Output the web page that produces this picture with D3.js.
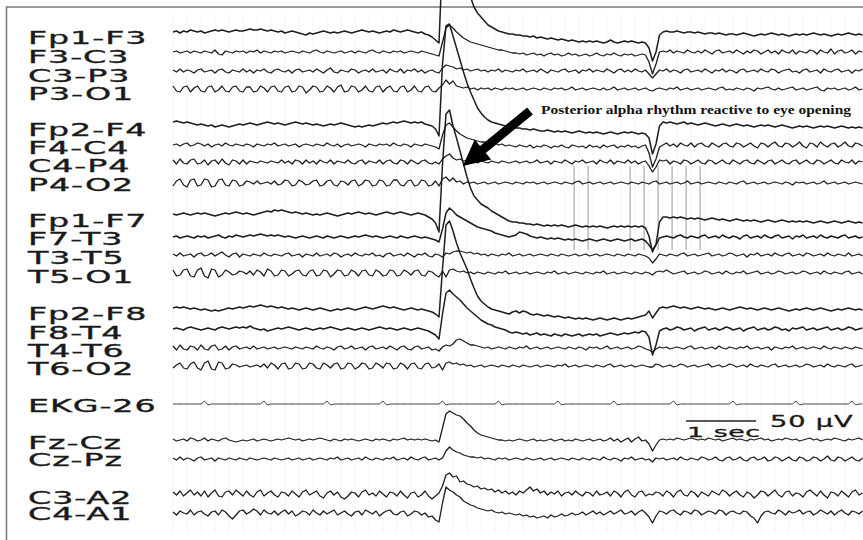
<!DOCTYPE html>
<html><head><meta charset="utf-8">
<script src="https://cdn.jsdelivr.net/npm/d3@7/dist/d3.min.js"></script>
<style>html,body{margin:0;padding:0;background:#fff}svg{display:block}</style>
</head><body>
<svg id="chart" width="863" height="540"></svg>
<script>
// ---------------- DATA ----------------
const channels = ["Fp1-F3","F3-C3","C3-P3","P3-O1","Fp2-F4","F4-C4","C4-P4","P4-O2",
  "Fp1-F7","F7-T3","T3-T5","T5-O1","Fp2-F8","F8-T4","T4-T6","T6-O2",
  "EKG-26","Fz-Cz","Cz-Pz","C3-A2","C4-A1"];
const sampleRate = 20;            // samples per second
const nSamples = 198;             // 9.85 s of record
// amplitude values (uV, positive = upward deflection), one per sample
const fp1_f3 = [0,1,-1,1,0,2,1,0,1,-1, 0,1,2,1,2,1,0,1,2,1,
 1,2,3,2,2,3,2,1,2,1, 0,1,-1,0,1,0,-1,-2,-3,-1,
 -2,-1,0,1,0,-1,0,-1,0,1, 0,-1,0,1,2,1,0,1,0,-1,
 0,1,0,2,1,0,1,2,1,0, -1,0,-2,-3,-5,-8,-11,75,100,98,
 88,74,62,52,44,35,25,19,15,11, 7,5,3,1,0,-1,-2,-2,-3,-3,
 -4,-4,-5,-4,-6,-5,-6,-7,-6,-7, -8,-7,-8,-9,-8,-9,-10,-9,-10,-9,
 -10,-9,-10,-11,-10,-8,-10,-11,-10,-9, -10,-9,-10,-11,-10,-11,-16,-29,-20,-3,
 0,1,0,0,1,0,-1,0,0,-1, 0,-1,-2,-1,-1,-2,-1,-2,-3,-2,
 -2,-3,-2,-1,-2,-3,-4,-3,-2,-3, -2,-1,-2,-3,-2,-3,-4,-3,-2,-3,
 -2,-3,-2,-1,-2,-3,-2,-3,-4,-3, -2,-3,-2,-1,-2,-3,-2,-3];
const f3_c3 = [0,1,-1,0,1,-1,1,0,-1,1, 0,-1,2,-2,-3,1,0,-1,1,0,
 1,-1,1,0,2,-1,1,0,-1,1, 0,1,-1,0,1,0,-1,1,0,-1,
 1,2,0,-1,1,0,-1,0,1,-1, 0,1,-1,1,0,-1,1,2,0,-1,
 1,0,-1,1,0,1,-1,0,1,0, -1,1,0,-1,-2,-3,-4,10,24,27,
 24,20,17,14,12,10,9,8,7,6, 5,4,3,2,2,1,0,-1,-1,-2,
 -1,-3,-2,-1,-3,-2,-4,-2,-1,-3, -2,-4,-3,-1,-3,-2,-4,-3,-2,-4,
 -3,-1,-3,-4,-2,-3,-1,-3,-4,-2, -3,-2,-4,-3,-2,-3,-10,-22,-12,0,
 1,0,2,-1,1,0,-1,2,0,-1, 1,-1,2,0,-2,1,2,-1,0,1,
 -1,2,0,-2,1,-1,2,1,-2,0, 2,-1,1,-2,2,0,-1,2,-2,1,
 0,-1,2,1,-2,2,0,-1,3,-2, 1,2,-1,0,2,-2,1,0];
const c3_p3 = [1,-1,2,-1,1,0,-2,1,2,-1, 0,1,-2,1,2,-1,-2,1,0,-1,
 2,-1,1,-2,1,0,2,-1,-2,1, 2,0,-1,1,-2,1,2,-1,0,1,
 -1,2,0,-2,1,3,-1,-2,1,0, -1,2,1,-2,0,1,-1,2,-1,0,
 1,-2,2,0,-1,2,-2,1,0,2, -1,1,-2,0,1,-1,-2,3,6,5,
 4,2,3,1,2,0,1,2,0,1, -1,1,0,2,-1,1,0,-1,1,0,
 2,-1,0,1,-1,2,0,-2,1,0, -1,1,2,-1,0,1,-2,1,0,2,
 -1,1,0,-1,2,0,-2,1,2,-1, 1,-1,2,0,-1,1,-3,-7,-3,1,
 0,2,-1,1,0,-2,1,2,-1,0, 1,-1,2,0,-2,1,0,2,-1,1,
 0,-2,1,2,-1,0,1,-1,2,0, -1,2,1,-2,0,1,2,-1,0,-2,
 1,2,-1,0,1,-2,2,0,-1,1, 2,-1,0,1,-2,1,0,2];
const p3_o1 = [3,-2,-3,2,3,-3,1,3,-2,-3, 2,3,-3,-1,3,-2,-3,2,3,-2,
 -3,2,2,-3,-2,3,1,-3,2,3, -2,-3,2,3,-3,-2,3,2,-4,-1,
 3,2,-3,-2,3,1,-3,2,4,-3, -2,3,2,-3,-1,3,-2,-3,2,3,
 -3,1,3,-2,-3,2,3,-3,-1,3, -2,-3,2,3,-2,-3,1,4,9,5,
 8,3,2,1,2,0,1,-1,1,0, 1,-1,1,0,-1,1,0,1,-1,0,
 1,-1,0,1,0,-1,1,0,-1,1, 0,1,-1,0,2,-1,0,1,-1,0,
 1,0,-1,1,-1,0,2,-1,0,1, -1,0,1,-1,0,1,-1,-2,0,1,
 0,-1,1,0,2,-1,0,1,-1,0, 1,-1,0,1,0,-1,1,2,-1,0,
 -1,1,0,-1,1,0,-2,1,0,1, 2,0,-1,1,-1,0,1,2,-1,0,
 1,-1,0,1,2,-1,-2,1,0,1, -1,0,1,-1,0,2,-1,0];
const fp2_f4 = [2,3,2,1,2,1,0,-1,0,-1, -2,-1,-3,-2,-1,-2,-3,-2,-1,0,
 -1,0,1,0,-1,0,1,2,1,0, 1,0,-1,0,1,2,1,0,1,0,
 -1,0,-1,-2,-1,0,-1,0,1,0, -1,-2,-3,-2,-3,-2,-1,-2,-1,0,
 1,0,1,2,1,2,3,2,1,2, 1,2,0,-1,-2,-5,-12,60,98,100,
 88,76,64,52,41,32,24,16,11,7, 4,2,1,0,-1,-2,-3,-3,-4,-4,
 -5,-5,-6,-5,-6,-7,-7,-6,-7,-8, -7,-8,-7,-8,-9,-8,-7,-8,-9,-8,
 -9,-8,-9,-10,-9,-8,-9,-10,-9,-8, -9,-8,-9,-10,-9,-10,-14,-30,-20,-2,
 2,1,2,1,0,1,2,0,1,0, -1,0,1,0,-1,-2,-1,0,-1,-2,
 -1,0,-1,-2,-1,-2,-3,-2,-1,-2, -1,-2,-3,-2,-1,-2,-3,-4,-3,-2,
 -3,-2,-3,-4,-3,-2,-3,-2,-3,-4, -3,-2,-3,-4,-3,-4,-3,-4];
const f4_c4 = [0,1,-1,1,2,-1,0,2,1,-1, 1,-2,0,1,-1,2,0,-1,1,0,
 -1,1,0,-2,1,0,-1,1,0,2, -1,0,1,-1,0,1,-2,0,1,0,
 -1,1,0,-1,2,0,-1,1,-2,0, 1,-1,0,1,0,-2,1,0,-1,1,
 0,1,-1,2,0,-1,1,0,-2,1, 0,-1,1,0,-1,-2,-4,10,20,22,
 18,14,11,9,7,6,5,4,3,3, 2,1,2,0,1,-1,0,-1,-2,0,
 -1,-2,0,-3,-1,-2,0,-1,-3,-1, -2,0,-2,-3,0,-1,-2,-1,-3,0,
 -2,-1,-3,0,-2,-1,0,-3,-1,-2, 0,-2,-1,-3,-1,0,-8,-22,-14,-2,
 0,2,-1,1,-2,2,0,-1,2,-2, 1,2,-1,-2,2,0,-2,1,2,-1,
 -2,2,1,-2,0,2,-1,-3,2,1, -2,1,3,-1,-2,2,1,-2,0,3,
 -1,-3,2,1,-2,3,0,-2,1,2, -2,0,3,-1,-2,2,1,-1];
const c4_p4 = [2,-2,3,-1,-2,2,3,-2,-1,2, -3,1,2,-2,3,-1,-3,2,1,-2,
 2,-2,1,0,-1,1,0,-1,1,0, -1,2,-1,1,-2,2,1,-2,2,-1,
 1,-2,2,0,-1,2,-2,1,0,-1, 2,-1,-2,1,2,-2,1,0,-1,2,
 -2,1,2,-1,-2,2,1,-2,2,0, -2,1,2,-1,-2,0,-2,3,6,8,
 4,2,3,1,2,0,1,-1,1,0, -1,1,0,-1,1,0,-1,0,1,-1,
 0,1,-1,0,2,-1,0,1,-2,1, 0,-1,2,0,-2,1,0,2,-1,0,
 1,-2,2,0,-1,2,-2,1,0,-1, 2,-1,1,-2,0,1,-4,-10,-5,2,
 1,2,-2,1,0,-2,2,1,-2,0, 2,-1,-2,2,1,-2,0,2,-1,-2,
 2,0,-2,1,2,-1,-2,2,0,-2, 1,2,-2,0,2,-1,-2,1,2,-2,
 0,2,-1,-2,2,1,-2,0,2,-1, -2,2,0,-1,2,-2,1,0];
const p4_o2 = [-3,2,4,-2,-4,3,4,-3,-2,4, 3,-4,-3,3,4,-2,-3,3,2,-3,
 -2,2,1,-1,2,-1,0,1,-1,2, -2,-1,3,2,-3,-2,3,1,-2,-1,
 2,3,-3,-2,2,3,-2,-3,2,1, -2,2,3,-3,-1,3,2,-3,-2,3,
 2,-3,-2,3,3,-2,-3,2,3,-3, -2,3,2,-3,-2,2,-3,4,6,2,
 5,1,2,-1,1,0,1,-1,0,1, -1,0,1,-1,0,1,0,-1,1,0,
 -1,1,0,1,-1,0,1,-1,0,1, 0,-1,1,0,-1,1,2,-1,0,1,
 -1,0,1,-1,0,1,-1,0,1,0, -1,1,0,-1,1,0,-1,1,2,-1,
 0,1,-1,0,1,-1,0,2,-1,0, 1,-1,0,1,0,-1,1,0,-1,1,
 0,-1,1,2,-1,0,1,-1,0,1, -1,0,1,0,-1,1,0,-2,1,0,
 1,-1,0,1,-1,0,2,-1,0,1, -1,0,1,-1,0,1,0,-1];
const fp1_f7 = [0,-1,0,1,0,-1,0,1,0,1, 0,-1,-2,-1,0,1,0,1,2,1,
 0,1,0,-1,0,1,2,3,2,4, 3,4,3,2,1,2,1,0,1,0,
 -1,0,-1,0,1,0,-1,-2,-1,0, 1,0,1,2,1,0,1,0,-1,0,
 1,2,1,0,1,2,1,0,-1,0, 1,0,-1,-3,-5,-9,-18,50,100,104,
 88,76,63,50,37,26,18,14,10,8, 6,3,1,-1,-3,-5,-7,-8,-8,-9,
 -9,-10,-10,-11,-10,-11,-12,-11,-12,-11, -12,-11,-12,-13,-12,-11,-12,-13,-12,-13,
 -12,-13,-12,-13,-14,-13,-12,-13,-12,-13, -12,-13,-12,-13,-12,-14,-22,-38,-30,-8,
 -3,-3,-4,-3,-4,-3,-4,-5,-4,-5, -4,-5,-6,-5,-4,-5,-6,-5,-6,-7,
 -6,-5,-6,-7,-6,-7,-6,-7,-8,-7, -6,-7,-8,-7,-6,-7,-8,-7,-8,-7,
 -8,-7,-8,-9,-8,-7,-8,-9,-8,-7, -8,-9,-8,-7,-8,-9,-8,-9];
const f7_t3 = [0,1,-1,0,1,0,-1,1,0,1, -1,0,1,2,0,-1,1,0,2,1,
 0,1,2,1,2,3,2,1,2,1, 2,1,0,1,0,-1,0,1,0,-1,
 0,1,0,-1,1,0,-1,0,1,0, -1,0,1,0,1,2,1,0,1,0,
 -1,0,1,0,-1,1,0,-1,0,1, 0,-1,0,-1,-2,-3,-5,8,24,29,
 26,22,20,18,16,14,12,10,9,8, 7,6,4,3,2,1,0,1,2,5,
 4,3,1,0,-1,0,-1,-2,-1,-2, -1,-2,-3,-2,-3,-2,-3,-4,-3,-2,
 -3,-4,-3,-2,-3,-4,-3,-2,-3,-4, -3,-2,-4,-3,-2,-4,-8,-13,-8,-1,
 0,1,0,-1,1,2,0,-1,1,0, -1,1,2,-1,0,1,-1,2,0,-1,
 1,0,-2,1,2,-1,0,1,-1,2, 0,-1,1,2,-1,0,1,-2,1,0,
 2,-1,0,1,-1,2,0,-1,1,0, -1,1,2,-1,0,1,-1,0];
const t3_t5 = [1,-1,2,-1,0,1,-2,1,2,-1, 0,2,-1,1,3,0,-2,1,2,-2,
 1,0,-1,1,0,-1,2,0,-1,1, 0,-1,1,2,-1,0,1,-2,1,0,
 -1,2,-1,0,1,-1,2,1,-2,0, 1,-1,2,0,-1,1,0,2,-1,0,
 -2,1,2,-1,0,1,-1,2,0,-2, 1,0,2,-1,-2,1,0,-2,2,1,
 3,4,4,3,2,3,1,2,0,1, -1,1,0,-1,1,0,2,-1,0,1,
 -1,0,1,-1,0,1,0,-1,1,0, -1,1,0,-1,0,1,-1,0,1,-1,
 0,1,-1,0,1,0,-1,1,0,-1, 1,0,-1,1,0,-1,-3,-8,-4,1,
 0,-1,1,0,-1,1,2,-1,0,1, -1,0,1,2,-1,0,1,-1,0,2,
 1,-1,0,1,-2,1,0,2,-1,0, 1,-1,2,0,-1,1,2,-1,0,1,
 -1,2,1,-1,0,1,-1,2,0,-1, 1,0,-1,2,-1,0,1,-1];
const t5_o1 = [3,-3,-2,3,4,-3,-4,3,5,-3, -5,4,3,-4,-2,3,1,-2,-1,2,
 1,-1,2,-2,3,1,-3,4,2,-3, -2,3,2,-3,-1,2,3,-2,-3,2,
 3,-3,-2,3,2,-4,-1,3,2,-3, -2,3,1,-3,2,3,-2,-3,3,1,
 -3,-2,3,2,-3,-2,3,1,-2,2, 3,-2,-3,2,1,-2,-4,2,-4,3,
 4,2,1,2,0,1,-1,1,0,-1, 1,0,-1,1,0,2,-1,0,1,-1,
 0,1,-1,0,1,0,-1,1,0,2, -1,0,1,-1,0,1,0,-1,1,0,
 -1,1,0,2,-1,0,1,-1,0,1, 0,-1,1,0,-1,1,0,-2,1,2,
 1,3,1,-1,0,1,2,-1,0,1, -1,0,2,1,-1,0,1,-1,2,0,
 -1,1,0,2,-1,0,1,2,-1,0, 1,-1,0,2,1,-1,0,1,-1,0,
 2,1,-1,0,1,-1,2,0,-1,1, 0,-1,1,2,-1,0,1,-1];
const fp2_f8 = [1,2,1,2,1,0,1,0,-1,0, -1,-2,-1,-2,-1,0,1,0,1,2,
 1,2,3,2,3,4,3,2,3,2, 1,2,1,0,1,0,-1,0,1,0,
 -1,0,1,0,-1,-2,-1,0,-1,0, 1,0,-1,0,1,2,1,0,1,2,
 3,2,1,2,1,0,-1,0,1,0, -1,0,-1,-2,-3,-5,-8,40,84,88,
 78,66,56,48,40,30,21,13,8,5, 2,0,-1,-2,-3,-4,-5,-3,-2,-4,
 -2,-3,-5,-6,-5,-6,-7,-6,-7,-8, -7,-8,-9,-8,-9,-10,-9,-10,-9,-10,
 -11,-10,-9,-10,-11,-10,-9,-10,-11,-10, -9,-10,-9,-8,-7,-6,-2,-9,-4,1,
 2,1,2,3,2,1,2,1,0,1, 2,1,0,1,0,-1,0,1,0,-1,
 0,1,2,1,0,1,0,-1,0,1, 0,-1,0,1,0,-1,-2,-1,0,-1,
 0,1,0,-1,0,1,0,-1,-2,-1, 0,-1,0,1,0,-1,0,-1];
const f8_t4 = [0,1,0,-1,1,2,1,0,-1,0, 1,0,-1,1,2,1,0,1,2,1,
 2,1,3,1,0,-1,0,-2,-1,0, 1,0,1,2,1,0,-1,0,1,0,
 -1,0,1,0,1,2,1,0,-1,0, 1,0,-1,0,1,0,-1,0,1,2,
 1,0,1,0,-1,0,1,0,-1,0, 1,0,-1,-2,-4,-6,-10,15,36,39,
 35,32,29,25,21,18,15,12,9,7, 5,4,2,1,0,-1,-3,-4,-3,-4,
 -5,-4,-6,-5,-4,-6,-5,-6,-7,-5, -6,-7,-5,-6,-7,-6,-5,-7,-6,-5,
 -6,-5,-7,-6,-5,-4,-5,-6,-5,-4, -5,-4,-3,-4,-2,-3,-8,-26,-16,-2,
 0,1,-1,0,2,1,-1,0,1,-2, 0,1,2,-1,0,1,-1,0,2,1,
 -1,0,1,-2,0,1,2,-1,0,1, -1,0,2,1,-1,0,-2,1,0,1,
 2,-1,0,1,-1,0,1,2,-1,0, 1,-1,0,2,1,-1,0,1];
const t4_t6 = [2,-2,3,-1,-2,2,1,-2,3,-1, -2,2,3,-2,-1,2,-2,1,2,-1,
 0,1,-1,2,-1,0,1,-1,0,1, -1,0,1,0,-1,1,0,-1,1,0,
 -1,2,0,-1,1,0,-2,1,2,-1, 0,2,-1,0,1,-2,1,2,-1,0,
 1,-1,2,0,-2,1,2,-1,-2,1, 2,-1,0,1,-2,-1,-3,1,3,2,
 4,8,9,7,5,3,3,2,1,0, 1,-1,0,1,0,-1,1,0,-1,1,
 0,2,-1,0,1,-1,0,1,-1,0, 1,0,-1,1,0,-1,1,0,-2,1,
 0,1,-1,0,2,-1,0,1,-1,0, 1,-1,0,2,1,-1,-2,-4,-1,1,
 0,1,-1,0,1,0,-1,1,2,-1, 0,1,-1,0,1,-1,2,0,-1,1,
 0,-1,1,0,2,-1,0,1,-1,0, 1,-2,1,0,-1,1,0,2,-1,0,
 1,-1,0,1,0,-1,2,0,-1,1, 0,-1,1,0,-1,1,0,-1];
const t6_o2 = [-2,1,3,-2,-3,2,4,-2,-4,3, 5,-3,-4,4,3,-3,-2,2,1,-1,
 0,1,-1,0,1,-1,2,-2,3,1, -3,2,3,-3,-2,3,2,-3,-2,3,
 2,-2,-3,3,1,-2,2,3,-3,-2, 3,2,-3,-1,3,2,-3,-2,3,1,
 -2,3,2,-3,-2,3,1,-3,2,3, -2,-3,2,3,-2,-1,2,-4,3,4,
 2,3,1,2,0,1,-1,0,1,-1, 0,1,0,-1,1,0,-1,1,0,-1,
 1,0,-1,0,1,-1,0,1,0,-1, 1,0,2,-1,0,1,-1,0,1,0,
 -1,1,0,-1,1,2,-1,0,1,-1, 0,1,-1,0,1,0,-1,-1,2,1,
 -1,0,1,-1,0,2,1,-1,0,1, -1,0,1,2,-1,0,1,-1,0,2,
 1,-1,0,1,-1,2,0,-1,1,0, -1,1,2,-1,0,1,-1,0,1,-1,
 0,2,1,-1,0,1,-1,2,0,-1, 1,0,-1,1,2,-1,0,1];
const ekg_26 = [0,0,0,0,0,0,0,0,0,3, -1,0,0,0,0,0,0,0,0,0,
 0,0,0,0,0,0,3,-1,0,0, 0,0,0,0,0,0,0,0,0,0,
 0,0,0,0,3,-1,0,0,0,0, 0,0,0,0,0,0,0,0,0,0,
 3,-1,0,0,0,0,0,0,0,0, 0,0,0,0,0,0,0,3,-1,0,
 0,0,0,0,0,0,0,0,0,0, 0,0,0,3,-1,0,0,0,0,0,
 0,0,0,0,0,0,0,0,0,0, 3,-1,0,0,0,0,0,0,0,0,
 0,0,0,0,0,0,3,-1,0,0, 0,0,0,0,0,0,0,0,0,0,
 0,0,0,3,-1,0,0,0,0,0, 0,0,0,0,0,0,0,0,0,0,
 3,-1,0,0,0,0,0,0,0,0, 0,0,0,0,0,0,0,0,3,-1,
 0,0,0,0,0,0,0,0,0,0, 0,0,0,0,3,-1,0,0];
const fz_cz = [1,-1,0,1,-1,2,1,-1,0,2, -1,1,0,-1,1,2,0,-1,-2,-1,
 0,-1,0,1,-1,0,1,0,-1,0, 1,0,1,2,1,0,1,-1,0,1,
 0,1,2,1,0,-1,1,0,-1,1, 0,1,0,-1,0,1,0,-1,1,0,
 1,0,-1,1,0,1,2,0,1,0, 1,0,1,0,-1,0,-2,12,26,29,
 27,25,24,21,17,14,10,7,5,4, 3,2,1,0,0,-1,0,-1,0,1,
 0,-1,0,1,-1,0,-1,0,1,-1, 0,1,-1,0,-1,1,0,-1,0,1,
 -1,0,1,-1,0,2,-1,1,-2,0, 2,-2,1,3,-1,0,-4,-11,-5,0,
 1,0,1,0,2,1,0,1,2,1, 0,1,0,2,1,0,1,-1,0,1,
 2,0,1,0,-1,1,0,1,2,0, 1,-1,0,1,0,2,1,0,1,-1,
 0,1,2,0,1,-1,0,1,0,2, 1,0,-1,1,0,1,2,0];
const cz_pz = [1,-1,2,-1,1,0,-2,1,2,-1, 0,1,-2,1,0,-1,1,0,-1,1,
 0,-1,1,0,-1,0,1,0,-1,1, 0,-1,0,1,-1,0,1,-1,0,1,
 -1,0,1,0,-1,1,0,2,-1,0, 1,-1,0,1,-1,2,0,-1,1,0,
 -1,1,0,2,-1,0,1,-1,2,0, -1,1,2,-1,0,1,-1,1,8,12,
 9,7,6,4,3,2,2,1,2,0, 1,0,-1,1,0,1,-1,0,1,0,
 -1,1,0,-1,0,1,-1,0,1,-1, 0,1,0,-1,1,0,-1,1,0,-1,
 1,0,-1,2,0,-1,1,0,-2,1, 0,2,-1,0,1,-1,0,-3,1,0,
 1,-1,0,1,-1,2,0,-1,1,0, -1,2,1,-1,0,2,-1,-2,1,2,
 -1,0,2,-1,-2,1,2,-1,0,2, -2,-1,2,1,-2,0,2,-1,-2,2,
 1,-2,-1,2,1,-2,0,3,-1,-2, 2,1,-2,0,2,-1,-2,1];
const c3_a2 = [2,-1,3,-2,1,4,-1,2,-2,3, -3,1,4,-2,-3,2,3,-1,4,1,
 -2,3,-1,-3,2,4,-2,1,3,-1, -3,2,1,-2,3,0,-3,2,4,-1,
 1,3,-2,-4,1,3,-1,2,-3,-5, -2,2,1,-3,2,4,-1,1,-2,3,
 0,-3,2,1,-2,3,-1,-4,1,2, -3,-1,3,-2,-5,-2,1,8,19,21,
 17,18,12,13,10,9,7,8,5,6, 4,5,2,4,1,3,0,2,-1,3,
 1,4,7,3,5,1,3,-1,2,0, 3,-2,1,2,-1,3,0,-2,2,1,
 -2,3,-1,0,2,-2,3,1,-3,2, 4,-1,-3,2,3,-2,0,-1,2,1,
 -2,3,1,-3,2,4,-1,-2,3,1, -3,2,0,-2,3,1,-1,4,2,-2,
 1,3,-1,-3,2,0,-4,-1,3,2, -2,1,4,-1,-3,2,3,-2,1,0,
 -3,2,4,1,-2,3,-1,-4,2,1, -2,3,0,-3,2,4,-1,1];
const c4_a1 = [1,-2,2,0,-1,3,-2,1,2,-1, -3,1,2,-2,3,1,-3,-6,-2,2,
 3,-1,1,4,2,-2,3,0,-1,2, -2,1,3,-1,2,-3,-1,2,1,-2,
 3,0,-2,2,-1,1,3,-2,0,2, -1,-3,1,2,-2,3,1,-1,2,-3,
 0,2,3,-1,-2,1,2,-3,-1,2, 1,-2,0,-4,-3,-7,-9,10,26,23,
 21,18,16,12,10,8,7,5,4,3, 2,3,1,0,1,-1,0,-1,-2,-1,
 -3,-2,-4,-3,-5,-4,-3,-5,-2,-4, -3,-1,-3,-2,0,-2,-1,1,-2,0,
 2,-1,1,-2,0,2,-1,1,3,-1, 0,2,-2,1,3,0,-4,-10,-3,2,
 1,-1,2,3,0,-2,2,1,-1,3, 2,-2,0,2,1,-1,3,2,-2,1,
 2,0,-1,2,1,-3,-5,-10,-3,1, 2,0,-1,3,1,-2,2,0,1,3,
 -1,1,2,-2,0,3,1,-1,2,-2, 1,3,0,-2,2,1,-1,2];
const traces = [fp1_f3,f3_c3,c3_p3,p3_o1,fp2_f4,f4_c4,c4_p4,p4_o2,
  fp1_f7,f7_t3,t3_t5,t5_o1,fp2_f8,f8_t4,t4_t6,t6_o2,ekg_26,fz_cz,cz_pz,c3_a2,c4_a1];
// event marker times (s)
const markerTimes = [5.73,5.93,6.53,6.73,6.93,7.13,7.33,7.53];
const calibTime = [7.33, 8.33];           // 1 s calibration bar
const calibLabels = ["1 sec", "50 µV"];
const annotationText = "Posterior alpha rhythm reactive to eye opening";

// ---------------- LAYOUT ----------------
const W = 863, H = 540;
const rowY   = [32,52,71,89, 124,145,162,183, 214,237,255,273, 309,329,348,366, 404, 440,459, 494,513];
const labelY = [43.5,62.5,82,99.5, 136,154,171.5,190.5, 226.5,245,264,282.5, 320,338.5,356.5,375, 411.5, 448.5,466, 503.5,520];
const heavy = new Set(["Fp1-F3","Fp2-F4","Fp1-F7","F7-T3","Fp2-F8","F8-T4"]);
const FONT = "'DejaVu Sans', Verdana, sans-serif";

const svg = d3.select("#chart");
svg.append("rect").attr("width",W).attr("height",H).attr("fill","#fff");

const x = d3.scaleLinear().domain([0, (nSamples-1)/sampleRate]).range([173, 862.5]);
const amp = d3.scaleLinear().domain([-50, 50]).range([50, -50]);

// faint paper grid
svg.append("g").selectAll("line").data(d3.range(0, 9.9, 0.2)).join("line")
  .attr("x1", d=>x(d)).attr("x2", d=>x(d)).attr("y1", 14).attr("y2", 532)
  .attr("stroke", "#f4f4f4").attr("stroke-width", 1);

// frame
svg.append("path").attr("d", `M6.5,${H} L6.5,7 L${W},7`)
  .attr("fill","none").attr("stroke","#7a7a7a").attr("stroke-width",1.6);

// event markers
svg.append("g").selectAll("line").data(markerTimes).join("line")
  .attr("x1", d=>x(d)).attr("x2", d=>x(d)).attr("y1", 166).attr("y2", 250)
  .attr("stroke", "#9a9a9a").attr("stroke-width", 1);

// traces
const line = d3.line().x((d,i)=>x(i/sampleRate)).y(d=>amp(d));
const g = svg.append("g");
channels.forEach((name, k) => {
  g.append("path")
    .attr("transform", `translate(0,${rowY[k]})`)
    .attr("d", line(traces[k]))
    .attr("fill","none")
    .attr("stroke", name === "EKG-26" ? "#444" : "#1e1e1e")
    .attr("stroke-width", name === "EKG-26" ? 1 : (heavy.has(name) ? 1.5 : 1.3))
    .attr("stroke-linejoin","round");
});

// channel labels
svg.append("g").selectAll("text").data(channels).join("text")
  .attr("transform", (d,k)=>`translate(28,${labelY[k]}) scale(1.85,1)`)
  .attr("font-family", FONT)
  .attr("font-size", 18).attr("letter-spacing", 0.5)
  .attr("fill","#1a1a1a").attr("stroke","#1a1a1a").attr("stroke-width",0.35)
  .text(d=>d);

// calibration bar
svg.append("line").attr("x1", x(calibTime[0])).attr("x2", x(calibTime[1]))
  .attr("y1", 421).attr("y2", 421).attr("stroke","#222").attr("stroke-width",1.5);
svg.append("text").attr("transform", `translate(${x(calibTime[0])+1},437) scale(1.85,1)`)
  .attr("font-family", FONT).attr("font-size",14.5).attr("letter-spacing",0.3)
  .attr("fill","#1a1a1a").attr("stroke","#1a1a1a").attr("stroke-width",0.3)
  .text(calibLabels[0]);
svg.append("text").attr("transform", `translate(770,427) scale(1.7,1)`)
  .attr("font-family", FONT).attr("font-size",16).attr("letter-spacing",0.5)
  .attr("fill","#1a1a1a").attr("stroke","#1a1a1a").attr("stroke-width",0.3)
  .text(calibLabels[1]);

// annotation text + arrow
svg.append("text").attr("x", 541).attr("y", 114)
  .attr("font-family","'Liberation Serif','Times New Roman',serif")
  .attr("font-weight","bold").attr("font-size",13).attr("fill","#111")
  .attr("textLength", 310).attr("lengthAdjust","spacingAndGlyphs")
  .text(annotationText);

const tip = [x(4.14), rowY[6] + 4];    // points at C4-P4 just after eye opening
const tail = [x(5.1), 111];
const dx = tail[0]-tip[0], dy = tail[1]-tip[1], L = Math.hypot(dx,dy);
const u = [dx/L, dy/L], n = [-u[1], u[0]];
const headLen = 26, headHalf = 13, shaftHalf = 4.5;
const B = [tip[0]+headLen*u[0], tip[1]+headLen*u[1]];
const pts = [
  tip,
  [B[0]+headHalf*n[0], B[1]+headHalf*n[1]],
  [B[0]+shaftHalf*n[0], B[1]+shaftHalf*n[1]],
  [tail[0]+shaftHalf*n[0], tail[1]+shaftHalf*n[1]],
  [tail[0]-shaftHalf*n[0], tail[1]-shaftHalf*n[1]],
  [B[0]-shaftHalf*n[0], B[1]-shaftHalf*n[1]],
  [B[0]-headHalf*n[0], B[1]-headHalf*n[1]]
];
svg.append("path").attr("d", d3.line()(pts) + "Z").attr("fill","#000");

// sanity check on data lengths
const badInfo = channels.map((c,k)=>c+":"+traces[k].length).filter((s,k)=>traces[k].length!==nSamples);
if (badInfo.length) throw new Error("Length mismatch: " + badInfo.join(", "));
</script>
</body></html>
